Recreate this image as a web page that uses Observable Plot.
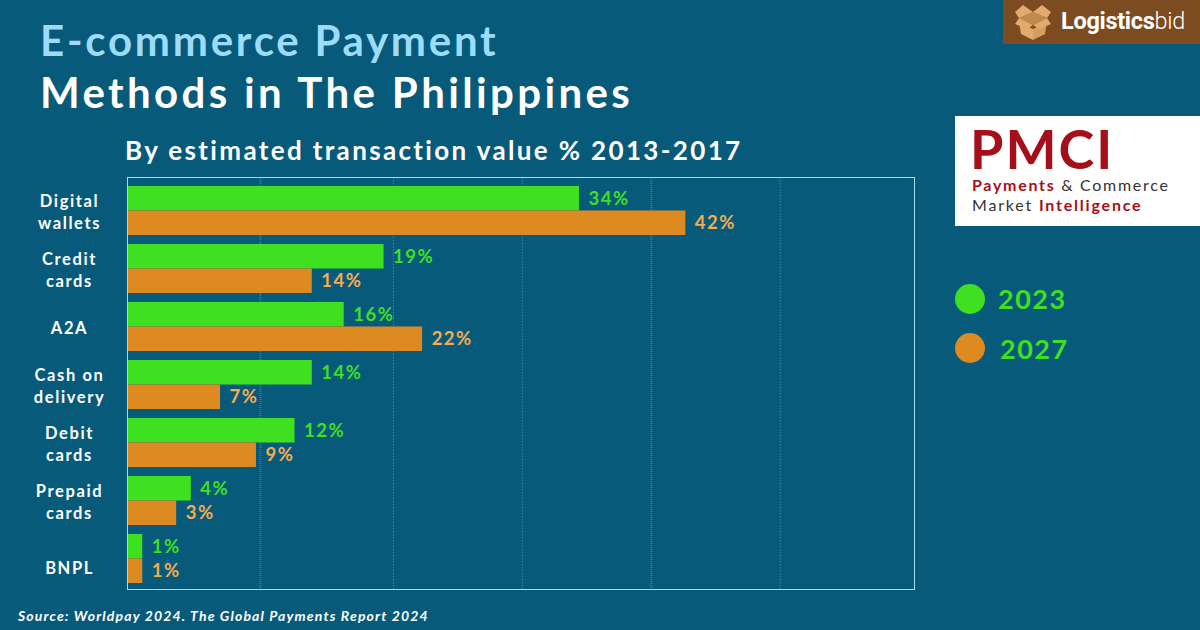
<!DOCTYPE html>
<html lang="en">
<head>
<meta charset="utf-8">
<title>E-commerce Payment Methods in The Philippines</title>
<script src="https://cdn.jsdelivr.net/npm/d3@7"></script>
<script src="https://cdn.jsdelivr.net/npm/@observablehq/plot@0.6"></script>
<style>
  html, body { margin: 0; padding: 0; background: #075a7a; }
  #page { position: relative; width: 1200px; height: 630px; overflow: hidden; background: #075a7a;
          font-family: Lato, "Noto Sans", sans-serif; font-weight: 700; }
  #page > * { position: absolute; white-space: nowrap; }
  .t1 { left: 40px; top: 12px; font-size: 42px; line-height: 56px; letter-spacing: 2.75px; color: #9cdcf8; }
  .t2 { left: 40px; top: 64px; font-size: 42px; line-height: 56px; letter-spacing: 3.35px; color: #fff; }
  .sub { left: 125px; top: 132px; font-size: 26px; line-height: 36px; letter-spacing: 2.35px; color: #fff; }
  #chart { left: 0; top: 169px; }
  #chart svg { display: block; }
  #chart g[font-size="18.5"] { letter-spacing: 1.5px; }
  #chart g[font-size="16.5"] { letter-spacing: 1.6px; }
  .src { left: 18px; top: 607px; font-size: 14px; line-height: 18px; letter-spacing: 1.16px; font-style: italic; color: #fff; }
  .lb { left: 1003px; top: 0; width: 197px; height: 44px; background: #7c4b20; }
  .lb svg { position: absolute; left: 12px; top: 4px; }
  .lb span { position: absolute; left: 58px; top: 5px; font: 300 23.5px/32px Roboto, sans-serif; letter-spacing: -.3px; color: #fff; }
  .lb b { font-weight: 700; }
  .pm { left: 955px; top: 116px; width: 245px; height: 110px; background: #fff; }
  .pm div { position: absolute; left: 17px; white-space: nowrap; }
  .pm .big { top: 8px; left: 15px; font-size: 54px; line-height: 50px; letter-spacing: 2px; color: #a50f19; }
  .pm .s1 { top: 58px; letter-spacing: 1.7px; }
  .pm .s2 { top: 78px; letter-spacing: 1.8px; }
  .pm .s1, .pm .s2 { font-size: 16px; line-height: 21px; color: #333; font-weight: 400; }
  .pm b { color: #a50f19; font-weight: 700; }
  .dot { width: 30px; height: 30px; border-radius: 50%; }
  .leg { font-size: 27px; line-height: 34px; letter-spacing: 1.5px; color: #3fe020; }
</style>
</head>
<body>
<div id="page">
  <div class="t1">E-commerce Payment</div>
  <div class="t2">Methods in The Philippines</div>
  <div class="sub">By estimated transaction value % 2013-2017</div>
  <div id="chart"></div>
  <div class="src">Source: Worldpay 2024. The Global Payments Report 2024</div>
  <div class="lb">
    <svg width="36" height="36" viewBox="0 0 36 36" aria-hidden="true">
      <path d="M18 8 L32 14 L18 21 L4 14 Z" fill="#c08a4c"/>
      <path d="M4 18 L18 25 L18 36 L6 30 Z" fill="#e0ab6c"/>
      <path d="M32 18 L18 25 L18 36 L30 30 Z" fill="#d69f5f"/>
      <path d="M18 8 L8 1 L0 8 L4 14 Z M18 8 L27 1 L36 8 L32 14 Z M4 14 L0 20 L12 25 L18 21 Z M32 14 L36 20 L24 25 L18 21 Z" fill="#e0ab6c"/>
    </svg>
    <span><b>Logistics</b>bid</span>
  </div>
  <div class="pm">
    <div class="big">PMCI</div>
    <div class="s1"><b>Payments</b> &amp; Commerce</div>
    <div class="s2">Market <b>Intelligence</b></div>
  </div>
  <div class="dot" style="left:955px;top:284px;background:#3fe020"></div>
  <div class="leg" style="left:998px;top:282px">2023</div>
  <div class="dot" style="left:955px;top:333px;background:#dd8a20"></div>
  <div class="leg" style="left:1000px;top:332px">2027</div>
</div>
<script>
const categories = ["Digital wallets", "Credit cards", "A2A", "Cash on delivery", "Debit cards", "Prepaid cards", "BNPL"];
const categoryLabels = ["Digital\nwallets", "Credit\ncards", "A2A", "Cash on\ndelivery", "Debit\ncards", "Prepaid\ncards", "BNPL"];
// Percentages as printed beside the bars
const printed2023 = [34, 19, 16, 14, 12, 4, 1];
const printed2027 = [42, 14, 22, 7, 9, 3, 1];
// Bar lengths, in the same percent units
const barLength2023 = [34, 19.3, 16.3, 13.9, 12.6, 4.8, 1.15];
const barLength2027 = [42, 13.9, 22.2, 7, 9.7, 3.7, 1.15];
const gridWide = [10, 39.4];
const gridThin = [20, 29.7, 49.1];
const xMax = 59.2;

const green = "#3fe020", orange = "#dd8a20", orangeText = "#f4ad50";
const rows2023 = categories.map((category, i) => ({category, length: barLength2023[i], printed: printed2023[i]}));
const rows2027 = categories.map((category, i) => ({category, length: barLength2027[i], printed: printed2027[i]}));
const labelRows = categories.map((category, i) => ({category, label: categoryLabels[i]}));
const halfBand = 24.5;
const valueText = {x: "length", y: "category", text: d => d.printed + "%", dx: 9, textAnchor: "start",
  fontSize: 18.5, fontWeight: 700};
const nameText = {x: 0, y: "category", text: "label", dx: -58, textAnchor: "middle", fill: "#fff",
  fontSize: 16.5, fontWeight: 700, lineHeight: 1.3};

const chart = Plot.plot({
  width: 930, height: 430,
  marginLeft: 127, marginRight: 16, marginTop: 8, marginBottom: 10,
  style: {background: "transparent", fontFamily: 'Lato, "Noto Sans", sans-serif'},
  x: {domain: [0, xMax], axis: null},
  y: {domain: categories, axis: null, paddingInner: 0.16, paddingOuter: 0.11, align: 0.615},
  marks: [
    Plot.ruleX(gridWide, {x: d => d, stroke: "#2f7f9c", strokeWidth: 2, strokeDasharray: "1 1"}),
    Plot.ruleX(gridThin, {x: d => d, stroke: "#3b8aa6", strokeWidth: 1, strokeDasharray: "1.5 1.5"}),
    Plot.barX(rows2023, {x: "length", y: "category", fill: green, insetBottom: halfBand}),
    Plot.barX(rows2027, {x: "length", y: "category", fill: orange, insetTop: halfBand}),
    Plot.text(rows2023, {...valueText, fill: green, dy: -halfBand / 2}),
    Plot.text(rows2027, {...valueText, fill: orangeText, dy: halfBand / 2}),
    Plot.text(labelRows.filter(d => d.category !== "BNPL"), nameText),
    Plot.text(labelRows.filter(d => d.category === "BNPL"), {...nameText, dy: 8}),
    Plot.frame({stroke: "#a5dcf0", strokeWidth: 1})
  ]
});
document.getElementById("chart").appendChild(chart);
</script>
</body>
</html>
